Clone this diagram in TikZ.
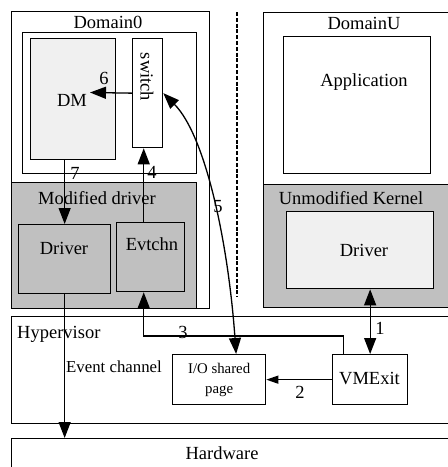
\documentclass[tikz,border=0pt]{standalone}
\usepackage{fontspec}
\setmainfont{Liberation Serif}
\usetikzlibrary{arrows.meta,calc}
\definecolor{grayreg}{HTML}{C0C0C0}
\definecolor{lightbox}{HTML}{F0F0F0}
\tikzset{
  boxx/.style={draw, line width=1.3pt, inner sep=0pt, anchor=north west},
  lbl/.style={font=\fontsize{18.5}{22}\selectfont, inner sep=0pt},
  conn/.style={line width=1.3pt},
  bigtip/.style={-{Triangle[length=16pt,width=12pt]}},
  bothtip/.style={{Triangle[length=16pt,width=12pt]}-{Triangle[length=16pt,width=12pt]}},
  smalltip/.style={-{Triangle[length=12pt,width=8pt]}},
}
\newcommand{\bx}[6]{\node[boxx,#6,minimum width=#4pt-#2pt,minimum height=#5pt-#3pt] (#1) at (#2,#3) {};}
\begin{document}
\begin{tikzpicture}[x=1pt,y=-1pt]
\useasboundingbox (0,0) rectangle (448,467);
\clip (0,0) rectangle (448,467);
% Domain0
\bx{dom0}{11}{11}{209}{308}{fill=white}
\bx{dom0in}{22}{32}{196}{173}{fill=white}
\bx{dm}{30}{38}{115}{159}{fill=lightbox}
\bx{sw}{132}{38}{162}{147}{fill=white}
\bx{moddrv}{11}{182}{196}{308}{fill=grayreg}
\bx{drv0}{18}{224}{110}{293}{fill=grayreg}
\bx{evt}{116}{222}{184}{291}{fill=grayreg}
% DomainU
\bx{domU}{263}{12}{452}{307}{fill=white}
\bx{app}{283}{36}{430}{173}{fill=white}
\bx{unmod}{263}{184}{452}{307}{fill=grayreg}
\bx{drvU}{286}{211}{433}{288}{fill=lightbox}
% Hypervisor and hardware
\bx{hyp}{11}{316}{452}{423}{fill=white}
\bx{io}{172}{354}{265}{404}{fill=white}
\bx{vmx}{332}{354}{407}{404}{fill=white}
\bx{hw}{11}{438}{452}{472}{fill=white}
% dashed separator
\coordinate (dtop) at (237,12);
\coordinate (dbot) at (237,297);
\draw[line width=2.4pt, dash pattern=on 4pt off 1.8pt] (dtop) -- (dbot);
% texts
\node[lbl] (tdom0) at (108,22) {Domain0};
\node[lbl] (tdomU) at (364,23) {DomainU};
\node[lbl] (tdm) at (72,100) {DM};
\node[lbl, rotate=-90] (tsw) at (147,77) {switch};
\node[lbl] (tapp) at (364,82) {Application};
\node[lbl] (tmod) at (97,198) {Modified driver};
\node[lbl] (tunmod) at (351,198) {Unmodified Kernel};
\node[lbl] (tdrv0) at (64,248) {Driver};
\node[lbl] (tevt) at (152,244) {Evtchn};
\node[lbl] (tdrvU) at (364,250) {Driver};
\node[lbl, anchor=west] (thyp) at (17,334) {Hypervisor};
\node[lbl, font=\fontsize{16.8}{20}\selectfont] (tev) at (114,367) {Event channel};
\node[lbl, font=\fontsize{14.8}{20}\selectfont, align=center] (tio) at (io.center) {I/O shared\\page};
\node[lbl] (tvmx) at (369.5,379) {VMExit};
\node[lbl] (thw) at (222,453) {Hardware};
% numbers
\node[lbl] (n6) at (104,78) {6};
\node[lbl] (n4) at (152,172) {4};
\node[lbl] (n7) at (75,173) {7};
\node[lbl] (n5) at (218,207) {5};
\node[lbl] (n3) at (183,332) {3};
\node[lbl] (n2) at (300,392) {2};
\node[lbl] (n1) at (380,328) {1};
% connectors
\draw[conn,bigtip] (sw.west) -- (90,92.5) coordinate (dmtip);
\coordinate (evtn) at ($(evt.north west)!0.4!(evt.north east)$);
\coordinate (evts) at ($(evt.south west)!0.4!(evt.south east)$);
\draw[conn,bigtip] (evtn) -- (evtn |- sw.south);
\draw[conn,bigtip] (drv0.north |- dm.south) -- (drv0.north);
\draw[conn,bigtip] (drv0.south) -- (drv0.south |- hw.north);
\coordinate (vmxn) at ($(vmx.north west)!0.15!(vmx.north east)$);
\draw[conn,bigtip] (vmxn) -- ++(0,-18) -| (evts);
\draw[conn,bothtip] (vmx.north) -- (vmx.north |- drvU.south);
\draw[conn,smalltip] (vmx.west) -- (io.east);
\coordinate (ion) at ($(io.north west)!0.68!(io.north east)$);
\draw[conn,bothtip] (ion) .. controls (228,240) and (205,135) .. (sw.east);
\end{tikzpicture}
\end{document}
